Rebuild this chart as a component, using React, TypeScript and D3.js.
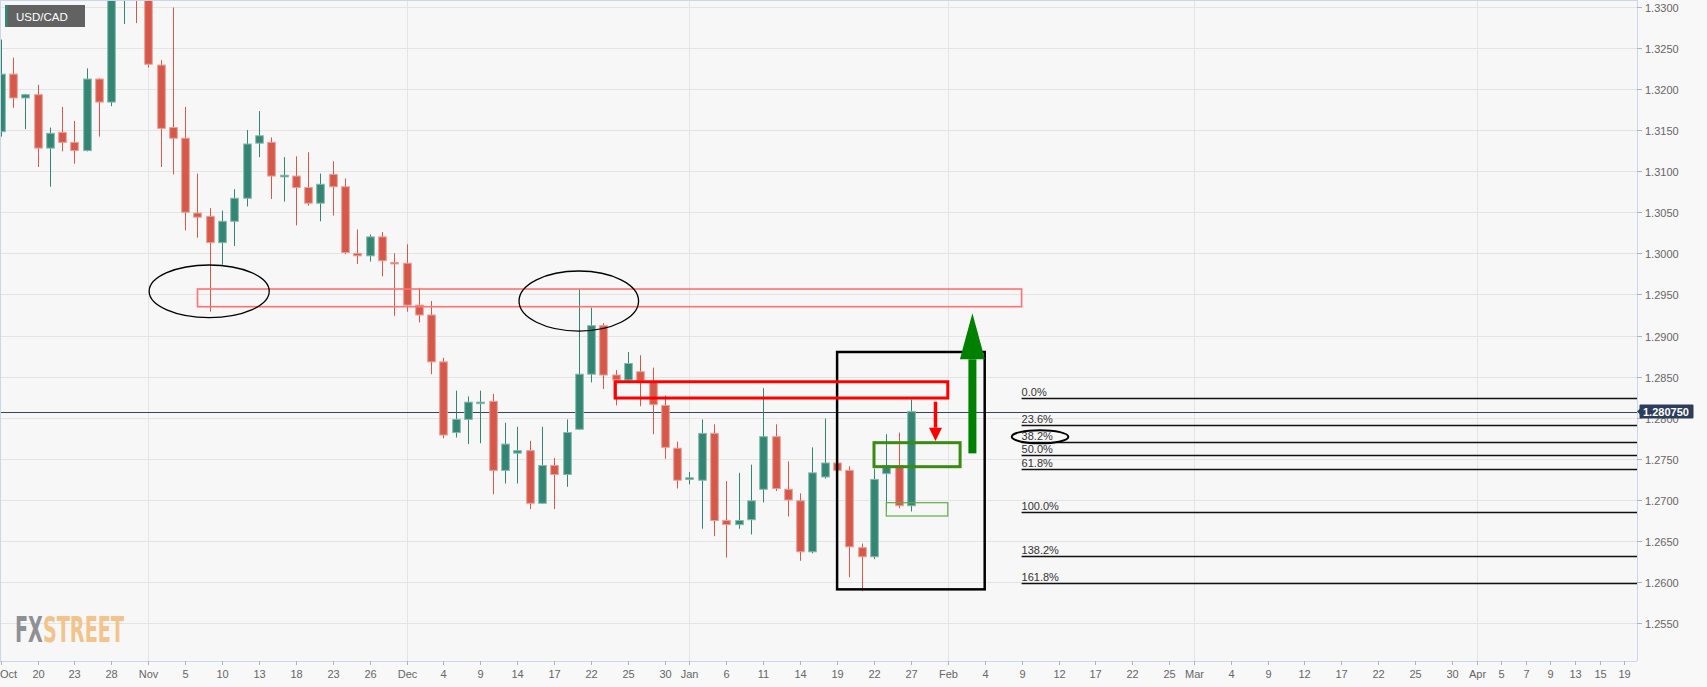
import React from 'react';
import * as d3 from 'd3';

const W = 1707;
const H = 687;

// Daily OHLC, USD/CAD, 15 Oct 2020 .. 27 Jan 2021 (index 0..74)
const openP = [1.3148,1.3218,1.3189,1.3193,1.3128,1.3147,1.3135,1.3125,1.3212,1.3184,
  1.3325,1.3340,1.3322,1.3229,1.3153,1.3140,1.3049,1.3045,1.3013,1.3039,
  1.3067,1.3134,1.3135,1.3093,1.3094,1.3080,1.3061,1.3096,1.3081,1.3000,
  1.2997,1.3020,1.2989,1.2988,1.2937,1.2925,1.2868,1.2782,1.2798,1.2818,
  1.2820,1.2736,1.2757,1.2760,1.2696,1.2742,1.2731,1.2786,1.2853,1.2912,
  1.2852,1.2846,1.2856,1.2844,1.2815,1.2763,1.2725,1.2724,1.2781,1.2675,
  1.2670,1.2676,1.2713,1.2777,1.2713,1.2699,1.2637,1.2728,1.2745,1.2736,
  1.2642,1.2631,1.2732,1.2742,1.2693];
const highP = [1.3260,1.3238,1.3194,1.3205,1.3153,1.3178,1.3161,1.3225,1.3213,1.3345,
  1.3360,1.3370,1.3335,1.3235,1.3299,1.3178,1.3097,1.3055,1.3052,1.3078,
  1.3150,1.3173,1.3141,1.3117,1.3118,1.3123,1.3097,1.3112,1.3091,1.3029,
  1.3023,1.3026,1.3000,1.3011,1.2958,1.2942,1.2873,1.2833,1.2826,1.2833,
  1.2829,1.2794,1.2789,1.2772,1.2789,1.2751,1.2798,1.2957,1.2934,1.2915,
  1.2858,1.2880,1.2876,1.2861,1.2827,1.2771,1.2734,1.2798,1.2792,1.2723,
  1.2733,1.2743,1.2836,1.2792,1.2747,1.2708,1.2764,1.2799,1.2746,1.2741,
  1.2647,1.2738,1.2780,1.2782,1.2822];
const lowP = [1.3142,1.3177,1.3151,1.3105,1.3081,1.3124,1.3109,1.3124,1.3142,1.3179,
  1.3279,1.3280,1.3226,1.3105,1.3096,1.3028,1.3019,1.2929,1.2986,1.3009,
  1.3057,1.3117,1.3066,1.3063,1.3034,1.3058,1.3039,1.3046,1.2999,1.2987,
  1.2990,1.2972,1.2924,1.2929,1.2916,1.2853,1.2775,1.2776,1.2768,1.2769,
  1.2707,1.2720,1.2720,1.2689,1.2695,1.2689,1.2716,1.2785,1.2843,1.2835,
  1.2815,1.2845,1.2814,1.2780,1.2750,1.2714,1.2719,1.2665,1.2656,1.2630,
  1.2665,1.2658,1.2697,1.2711,1.2680,1.2626,1.2635,1.2726,1.2735,1.2606,
  1.2589,1.2628,1.2688,1.2690,1.2686];
const closeP = [1.3218,1.3189,1.3193,1.3128,1.3146,1.3135,1.3125,1.3212,1.3184,1.3325,
  1.3340,1.3322,1.3230,1.3152,1.3140,1.3050,1.3044,1.3013,1.3039,1.3067,
  1.3133,1.3143,1.3094,1.3095,1.3080,1.3061,1.3084,1.3081,1.3001,1.2997,
  1.3020,1.2991,1.2988,1.2937,1.2925,1.2868,1.2779,1.2798,1.2819,1.2819,
  1.2736,1.2768,1.2760,1.2696,1.2742,1.2731,1.2782,1.2853,1.2912,1.2852,
  1.2846,1.2866,1.2845,1.2816,1.2764,1.2724,1.2727,1.2781,1.2675,1.2670,
  1.2675,1.2699,1.2777,1.2714,1.2700,1.2637,1.2733,1.2745,1.2736,1.2643,
  1.2631,1.2725,1.2742,1.2693,1.28075];

const tickIdx = [0,3,6,9,12,15,18,21,24,27,30,33,36,39,42,45,48,51,54,56,59,62,65,68,71,74,77,80,83,86,89,92,95,97,100,103,106,109,112,115,118,120,122,124,126,128,130,132];
const tickLabels = ['Oct','20','23','28','Nov','5','10','13','18','23','26','Dec','4','9','14','17','22','25','30','Jan','6','11','14','19','22','27','Feb','4','9','12','17','22','25','Mar','4','9','12','17','22','25','30','Apr','5','7','9','13','15','19'];
const monthIdx = [12, 33, 56, 77, 97, 120];
const priceTicks = [1.255,1.26,1.265,1.27,1.275,1.28,1.285,1.29,1.295,1.30,1.305,1.31,1.315,1.32,1.325,1.33];

const fibLevels = [0, 0.236, 0.382, 0.5, 0.618, 1, 1.382, 1.618];
const fibLabels = ['0.0%','23.6%','38.2%','50.0%','61.8%','100.0%','138.2%','161.8%'];
const fibTop = 1.2824;
const fibBottom = 1.2685;
const fibStartIdx = 83;
const lastPrice = 1.28075;

const PLOT_R = 1637;
const PLOT_B = 661;
const x = d3.scaleLinear().domain([0, 133]).range([0.7, 1636.6]);
const y = d3.scaleLinear().domain([1.33, 1.255]).range([6.7, 623.3]);

const GREEN = '#338574';
const GREEN_L = '#86b8ac';
const RED = '#d6584a';
const RED_L = '#eaa096';
const GRID = '#e4e4e4';
const AXIS = '#ccd6eb';
const TXT = '#666666';
const FONT = 'Liberation Sans, Arial, sans-serif';

function Arrow({ xi, from, headStart, tip, shaftW, headW, color }: any) {
  const cx = x(xi);
  const y0 = y(from), y1 = y(headStart), y2 = y(tip);
  return (
    <g>
      <rect x={cx - shaftW / 2} y={Math.min(y0, y1)} width={shaftW} height={Math.abs(y1 - y0)} fill={color} />
      <polygon points={`${cx - headW / 2},${y1} ${cx + headW / 2},${y1} ${cx},${y2}`} fill={color} />
    </g>
  );
}

export default function App() {
  const rectAt = (i0: number, i1: number, p0: number, p1: number) => ({
    x: x(i0), y: y(p0), width: x(i1) - x(i0), height: y(p1) - y(p0),
  });
  const ell = (ci: number, cp: number, ri: number, rp: number) => ({
    cx: x(ci), cy: y(cp), rx: x(ri) - x(0), ry: y(cp - rp) - y(cp),
  });
  const fibPrice = (p: number) => fibTop - p * (fibTop - fibBottom);

  return (
    <div style={{ position: 'absolute', left: 0, top: 0 }}>
      <svg width={W} height={H} style={{ display: 'block', fontFamily: FONT }}>
        <defs>
          <clipPath id="plot">
            <rect x={0} y={0} width={PLOT_R} height={PLOT_B} />
          </clipPath>
        </defs>
        <rect x={0} y={0} width={W} height={H} fill="#f8f8f8" />
        <rect x={0} y={0} width={PLOT_R} height={PLOT_B} fill="#f7f7f7" />

        {/* grid */}
        {priceTicks.map((p) => (
          <line key={'h' + p} x1={0} x2={PLOT_R} y1={Math.round(y(p)) + 0.5} y2={Math.round(y(p)) + 0.5} stroke={GRID} strokeWidth={1} />
        ))}
        {monthIdx.map((m) => (
          <line key={'v' + m} x1={Math.round(x(m)) + 0.5} x2={Math.round(x(m)) + 0.5} y1={0} y2={PLOT_B} stroke={GRID} strokeWidth={1} />
        ))}

        {/* logo */}
        <text x={15} y={642} fontFamily="'DejaVu Sans Condensed', 'Liberation Sans Narrow', sans-serif" fontWeight="bold" fontSize={36} textLength={109} lengthAdjust="spacingAndGlyphs">
          <tspan fill="#8f9094">FX</tspan><tspan fill="#f2c48b">STREET</tspan>
        </text>

        <g clipPath="url(#plot)">
          {/* fib lines */}
          {fibLevels.map((f, k) => {
            const yy = Math.round(y(fibPrice(f))) + 0.5;
            return (
              <g key={'f' + k}>
                <line x1={x(fibStartIdx)} x2={PLOT_R} y1={yy} y2={yy} stroke="#111" strokeWidth={1.3} />
                <text x={x(fibStartIdx)} y={yy - 3} fontSize={11} fill="#333">{fibLabels[k]}</text>
              </g>
            );
          })}
          <ellipse {...ell(84.5, fibPrice(0.382) + 0.0006, 2.3, 0.0008)} fill="none" stroke="#000" strokeWidth={2} />

          {/* last price line */}
          <line x1={0} x2={PLOT_R} y1={Math.round(y(lastPrice)) + 0.5} y2={Math.round(y(lastPrice)) + 0.5} stroke="#34455f" strokeWidth={1} />

          {/* candles */}
          {openP.map((o, i) => {
            const c = closeP[i];
            const up = c >= o;
            const cx = Math.round(x(i)) + 0.5;
            const top = Math.min(y(o), y(c));
            const h = Math.max(Math.abs(y(o) - y(c)), 1.5);
            return (
              <g key={'c' + i}>
                <line x1={cx} x2={cx} y1={y(highP[i])} y2={y(lowP[i])} stroke={up ? GREEN : RED} strokeWidth={1} />
                <rect x={cx - 3.8} y={top} width={7.6} height={h} fill={up ? GREEN : RED} stroke={up ? GREEN_L : RED_L} strokeWidth={1} />
              </g>
            );
          })}

          {/* annotations */}
          <rect {...rectAt(16, 83, 1.29566, 1.29351)} fill="none" stroke="#ff7272" strokeWidth={1.6} />
          <ellipse {...ell(16.95, 1.29538, 4.88, 0.0032)} fill="none" stroke="#000" strokeWidth={1.3} />
          <ellipse {...ell(47, 1.2942, 4.86, 0.00365)} fill="none" stroke="#000" strokeWidth={1.3} />
          <rect {...rectAt(68, 80, 1.2880, 1.25913)} fill="none" stroke="#000" strokeWidth={2.5} />
          <rect {...rectAt(49.95, 77, 1.28438, 1.2824)} fill="none" stroke="#ff0000" strokeWidth={3} />
          <rect {...rectAt(71, 78, 1.27697, 1.27405)} fill="none" stroke="#3b8a12" strokeWidth={3} />
          <rect {...rectAt(72, 77, 1.26967, 1.26805)} fill="none" stroke="#5fae45" strokeWidth={1.2} />
          <Arrow xi={76} from={1.28195} headStart={1.27879} tip={1.27717} shaftW={3.5} headW={13} color="#ff0000" />
          <Arrow xi={79} from={1.27567} headStart={1.28711} tip={1.29271} shaftW={8} headW={25} color="#008000" />
        </g>

        {/* axes borders */}
        <line x1={0} x2={PLOT_R} y1={0.5} y2={0.5} stroke={AXIS} />
        <line x1={0.5} x2={0.5} y1={0} y2={PLOT_B} stroke={AXIS} />
        <line x1={0} x2={PLOT_R} y1={PLOT_B + 0.5} y2={PLOT_B + 0.5} stroke={AXIS} />
        <line x1={PLOT_R + 0.5} x2={PLOT_R + 0.5} y1={0} y2={PLOT_B} stroke={AXIS} />

        {/* x axis */}
        {tickIdx.map((t, k) => {
          const xx = Math.round(x(t)) + 0.5;
          return (
            <g key={'xt' + k}>
              <line x1={xx} x2={xx} y1={PLOT_B} y2={PLOT_B + 4} stroke="#aab4c8" />
              <text x={k === 0 ? 0 : xx} y={678} fontSize={11} fill={TXT} textAnchor={k === 0 ? 'start' : 'middle'}>{tickLabels[k]}</text>
            </g>
          );
        })}

        {/* y axis */}
        {priceTicks.map((p) => {
          const yy = Math.round(y(p)) + 0.5;
          return (
            <g key={'yt' + p}>
              <line x1={PLOT_R} x2={PLOT_R + 5} y1={yy} y2={yy} stroke="#aab4c8" />
              <text x={PLOT_R + 8} y={yy + 4} fontSize={11} fill={TXT}>{p.toFixed(4)}</text>
            </g>
          );
        })}

        {/* last price label */}
        <g>
          <polygon points={`${PLOT_R},${y(lastPrice)} ${PLOT_R + 3},${y(lastPrice) - 3} ${PLOT_R + 3},${y(lastPrice) + 3}`} fill="#2c3d5b" />
          <rect x={PLOT_R + 2.5} y={y(lastPrice) - 7} width={54} height={14} fill="#2c3d5b" rx={1} />
          <text x={PLOT_R + 6} y={y(lastPrice) + 4} fontSize={11} fontWeight="bold" fill="#fff">1.280750</text>
        </g>

        {/* pair label */}
        <rect x={5} y={5} width={80} height={22} fill="#626262" />
        <rect x={5} y={5} width={2.5} height={22} fill="#2e8b74" />
        <text x={16} y={20.5} fontSize={11.5} fill="#fff">USD/CAD</text>
      </svg>
    </div>
  );
}
